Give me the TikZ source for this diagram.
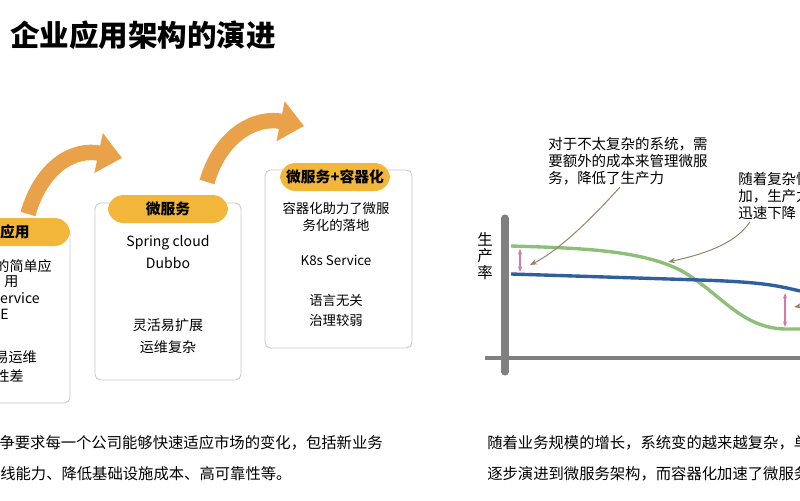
\documentclass[tikz,border=0pt]{standalone}
\usepackage{fontspec}
\setmainfont{Noto Sans CJK SC}
\usetikzlibrary{arrows.meta}
\definecolor{pillfill}{HTML}{F2B63A}
\definecolor{bendarrow}{HTML}{E9A24A}
\definecolor{greencurve}{HTML}{8DBF7A}
\definecolor{bluecurve}{HTML}{2F5F9E}
\definecolor{pinkarrow}{HTML}{D878A8}
\tikzstyle{card} = [draw=gray!45, rounded corners=4pt, line width=0.6pt]
\tikzstyle{pill} = [fill=pillfill, rounded corners=11pt]
\tikzstyle{txt} = [font=\fontsize{10}{12}\selectfont, inner sep=0pt]
\tikzstyle{small} = [font=\fontsize{9.5}{11.5}\selectfont, inner sep=0pt]
\tikzstyle{body} = [font=\fontsize{10.3}{12}\selectfont, inner sep=0pt]
\tikzstyle{wide} = [font=\fontsize{10.9}{12}\selectfont, inner sep=0pt]
\tikzstyle{head} = [font=\fontsize{10.5}{12}\selectfont\bfseries, inner sep=0pt]
\tikzstyle{bendline} = [draw=bendarrow, line width=11pt, -{Triangle[width=28pt,length=17pt]}]
\tikzstyle{note} = [draw=gray!60!brown, line width=0.7pt, -{Stealth[length=5pt]}]
\tikzstyle{gap} = [draw=pinkarrow, line width=0.8pt, {Stealth[length=4pt]}-{Stealth[length=4pt]}]

\begin{document}
\begin{tikzpicture}[x=0.025cm, y=-0.025cm]
    \useasboundingbox (0,0) rectangle (800,500);
    \clip (0,0) rectangle (800,500);
    % Title
    \node [anchor=west, font=\fontsize{21}{24}\selectfont\bfseries, inner sep=0pt] (title) at (10,35) {企业应用架构的演进};
    % Cards
    \draw [card] (-90,228) rectangle (70,403);
    \fill [pill] (-80,218) rectangle (70,246);
    \node [head, anchor=east] (p1) at (30,232) {应用};
    \node [txt, anchor=east] (a1) at (52,266) {的简单应};
    \node [txt, anchor=west] (a2) at (4,282) {用};
    \node [txt, anchor=east] (a3) at (40,298) {ervice};
    \node [txt, anchor=west] (a4) at (0,314) {E};
    \node [txt, anchor=east] (a5) at (37,357) {易运维};
    \node [txt, anchor=east] (a6) at (24,376) {性差};

    \draw [card] (95,203) rectangle (241,380);
    \fill [pill] (108,195) rectangle (228,223);
    \node [head] (p2) at (168,209) {微服务};
    \node [txt] (b1) at (168,243) {Spring cloud};
    \node [txt] (b2) at (168,263) {Dubbo};
    \node [txt] (b3) at (168,325) {灵活易扩展};
    \node [txt] (b4) at (168,347) {运维复杂};

    \draw [card] (265,170) rectangle (412,348);
    \fill [pill] (280,163) rectangle (390,191);
    \node [head] (p3) at (335,177) {微服务+容器化};
    \node [small] (c1) at (336,208) {容器化助力了微服};
    \node [small] (c2) at (336,225) {务化的落地};
    \node [small] (c3) at (336,260) {K8s Service};
    \node [small] (c4) at (336,300) {语言无关};
    \node [small] (c5) at (336,320) {治理较弱};
    % Bent arrows
    \coordinate (s1) at (28,214);
    \coordinate (e1) at (122,158);
    \coordinate (s2) at (207,182);
    \coordinate (e2) at (304,126);
    \path [bendline] (s1) .. controls (42,165) and (75,148) .. (e1);
    \path [bendline] (s2) .. controls (220,136) and (255,116) .. (e2);
    % Chart
    \coordinate (yt) at (505,218);
    \coordinate (yb) at (505,372);
    \coordinate (xl) at (485,358);
    \coordinate (xr) at (800,358);
    \draw [gray, line width=5pt, line cap=round] (yt) -- (yb);
    \draw [gray, line width=3pt] (xl) -- (xr);
    \node [txt, align=center, font=\fontsize{11}{12}\selectfont] (ylab) at (485,256) {生\\产\\率};
    \draw [greencurve, line width=2.4pt] (511,246) .. controls (580,248) and (640,250) .. (680,270)
        .. controls (720,292) and (740,328) .. (785,329) -- (800,329);
    \draw [bluecurve, line width=2.4pt] (511,274) -- (700,280) .. controls (760,282) and (775,285) .. (800,291);
    \coordinate (g1t) at (520,249);
    \coordinate (g1b) at (520,272);
    \coordinate (g2t) at (785,293);
    \coordinate (g2b) at (785,327);
    \path [gap] (g1t) -- (g1b);
    \path [gap] (g2t) -- (g2b);
    % Notes
    \node [body, anchor=north west, align=left] (n1) at (548,137) {对于不太复杂的系统，需\\要额外的成本来管理微服\\务，降低了生产力};
    \node [body, anchor=north west, align=left] (n2) at (738,172) {随着复杂性\\加，生产力\\迅速下降};
    \coordinate (t1) at (530,265);
    \coordinate (t2) at (668,262);
    \coordinate (t3) at (794,307);
    \path [note] (n1.south) ++(-8,2) .. controls (595,215) and (560,250) .. (t1);
    \path [note] (n2.south west) ++(12,2) .. controls (735,245) and (700,255) .. (t2);
    \path [note] (805,305) -- (t3);
    % Bottom text
    \node [wide, anchor=east] (d1) at (383,443) {争要求每一个公司能够快速适应市场的变化，包括新业务};
    \node [wide, anchor=west] (d2) at (0,474) {线能力、降低基础设施成本、高可靠性等。};
    \node [wide, anchor=west] (d3) at (487,443) {随着业务规模的增长，系统变的越来越复杂，单};
    \node [wide, anchor=west] (d4) at (487,474) {逐步演进到微服务架构，而容器化加速了微服务};
\end{tikzpicture}
\end{document}
